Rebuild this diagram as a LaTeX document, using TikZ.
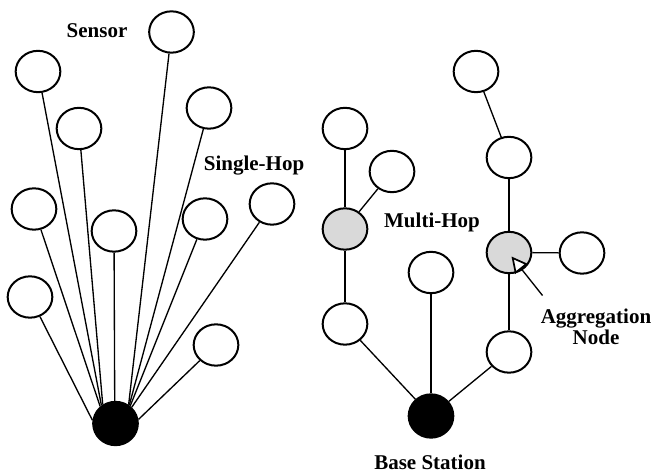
\documentclass[tikz,border=0pt]{standalone}
\usepackage{fontspec}
\setmainfont{Liberation Serif}
\usetikzlibrary{shapes.geometric,arrows.meta}
\begin{document}
\begin{tikzpicture}[x=0.75pt,y=-0.75pt,
  sensor/.style={ellipse,draw=black,line width=1.5pt,fill=white,minimum width=33.5pt,minimum height=31pt,inner sep=0pt},
  aggr/.style={sensor,fill=aggray},
  basest/.style={ellipse,draw=black,fill=black,line width=1pt,minimum width=34pt,minimum height=33pt,inner sep=0pt},
  link/.style={line width=1pt},
  lbl/.style={font=\fontsize{15.75}{16}\selectfont\bfseries,inner sep=0pt,align=center}]
\definecolor{aggray}{HTML}{D9D9D9}
\useasboundingbox (0,0) rectangle (652,473);
% left cluster
\node[basest] (B1) at (115.5,423.5) {};
\node[sensor] (s1) at (171.5,32) {};
\node[sensor] (s2) at (38,71.5) {};
\node[sensor] (s3) at (209,108) {};
\node[sensor] (s4) at (79,128.5) {};
\node[sensor] (s5) at (34,209) {};
\node[sensor] (s6) at (114,231) {};
\node[sensor] (s7) at (205,219) {};
\node[sensor] (s8) at (272,204) {};
\node[sensor] (s9) at (30,297) {};
\node[sensor] (s10) at (216,345) {};
\draw[link] (s1) -- (B1.55);
\draw[link] (s2) -- (B1.128);
\draw[link] (s3) -- (B1.53);
\draw[link] (s4) -- (B1.124);
\draw[link] (s5) -- (B1.132);
\draw[link] (s6) -- (B1.92);
\draw[link] (s7) -- (B1.50);
\draw[link] (s8) -- (B1.45);
\draw[link] (s9) -- (B1.172);
\draw[link] (s10) -- (B1.10);
% right cluster
\node[basest] (B2) at (431,416) {};
\node[sensor] (r1) at (476,71.5) {};
\node[sensor] (r2) at (345,128.5) {};
\node[sensor] (r3) at (392,171.5) {};
\node[aggr] (g1) at (345,229) {};
\node[sensor] (r5) at (509,157.5) {};
\node[aggr] (g2) at (509,252.5) {};
\node[sensor] (r6) at (582,253) {};
\node[sensor] (r7) at (431,272.5) {};
\node[sensor] (r8) at (345,324) {};
\node[sensor] (r9) at (509,352) {};
\draw[link] (r2) -- (g1);
\draw[link] (r3) -- (g1);
\draw[link] (g1) -- (r8);
\draw[link] (r8) -- (B2);
\draw[link] (r7) -- (B2);
\draw[link] (r9) -- (B2);
\draw[link] (r9) -- (g2);
\draw[link] (g2) -- (r6);
\draw[link] (g2) -- (r5);
\draw[link] (r5) -- (r1);
% labels
\node[lbl] (tSensor) at (97,31) {Sensor};
\node[lbl] (tSingle) at (254,166) {Single-Hop};
\node[lbl] (tMulti) at (432,222) {Multi-Hop};
\node[lbl,font=\fontsize{15.75}{15.75}\selectfont\bfseries] (tAggr) at (596,327) {Aggregation\\Node};
\node[lbl] (tBase) at (430,462) {Base Station};
\coordinate (aStart) at (542.5,295.5);
\coordinate (aEnd) at (511.5,256.5);
\draw[link,-{Triangle[open,fill=white,length=12pt,width=12pt,line width=1.3pt]}] (aStart) -- (aEnd);
\end{tikzpicture}
\end{document}
